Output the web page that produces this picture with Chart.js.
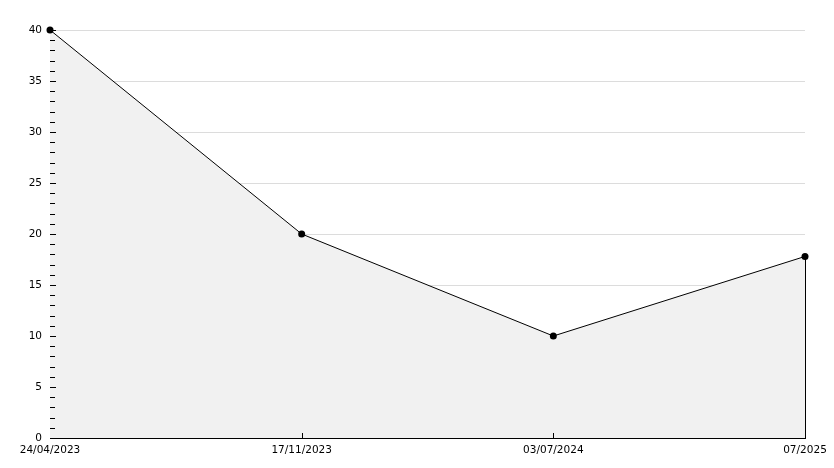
<!DOCTYPE html>
<html>
<head>
<meta charset="utf-8">
<script src="https://cdn.jsdelivr.net/npm/chart.js@4/dist/chart.umd.min.js"></script>
<style>
  html, body { margin: 0; padding: 0; background: #fff; }
  #wrap { width: 834px; height: 468px; }
</style>
</head>
<body>
<div id="wrap"><canvas id="chart" width="834" height="468"></canvas></div>
<script>
const dateLabels = ['24/04/2023', '17/11/2023', '03/07/2024', '07/2025'];
const values = [40, 20, 10, 17.8];
const yMin = 0;
const yMax = 40;
const yMajorStep = 5;

// ticks drawn inside the plot, plus the closing edge of the fill
const innerTicks = {
    id: 'innerTicks',
    afterDatasetsDraw(chart) {
        const ctx = chart.ctx;
        const x = chart.scales.x;
        const y = chart.scales.y;
        const area = chart.chartArea;
        ctx.save();
        ctx.strokeStyle = '#000';
        ctx.lineWidth = 1;
        ctx.beginPath();
        for (let v = yMin; v <= yMax; v++) {
            const py = Math.round(y.getPixelForValue(v)) + 0.5;
            const len = v % yMajorStep === 0 ? 6 : 5;
            ctx.moveTo(area.left, py);
            ctx.lineTo(area.left + len, py);
        }
        for (let i = 1; i < dateLabels.length - 1; i++) {
            const px = Math.round(x.getPixelForValue(i)) + 0.5;
            ctx.moveTo(px, area.bottom);
            ctx.lineTo(px, area.bottom - 5);
        }
        const last = values.length - 1;
        const lx = Math.round(x.getPixelForValue(last)) + 0.5;
        ctx.moveTo(lx, y.getPixelForValue(values[last]));
        ctx.lineTo(lx, area.bottom);
        ctx.stroke();
        ctx.restore();
    }
};

new Chart(document.getElementById('chart'), {
    type: 'line',
    data: {
        labels: dateLabels,
        datasets: [{
            data: values,
            borderColor: '#000',
            borderWidth: 1,
            backgroundColor: '#f1f1f1',
            fill: 'origin',
            tension: 0,
            clip: false,
            pointRadius: 3.5,
            pointBackgroundColor: '#000',
            pointBorderColor: '#000',
            pointBorderWidth: 0,
        }]
    },
    options: {
        responsive: false,
        animation: false,
        layout: { padding: { top: 30, right: 29, left: 0, bottom: 0 } },
        plugins: {
            legend: { display: false },
            tooltip: { enabled: false },
        },
        scales: {
            x: {
                type: 'category',
                offset: false,
                grid: { display: false, drawTicks: false },
                border: { display: true, color: '#000', width: 1 },
                ticks: {
                    color: '#000',
                    font: { family: 'DejaVu Sans', size: 10.5 },
                    maxRotation: 0,
                    autoSkip: false,
                    padding: 6,
                },
                afterFit(scale) { scale.height = 30; },
            },
            y: {
                min: yMin,
                max: yMax,
                grid: {
                    drawTicks: false,
                    color: ctx => (ctx.tick && ctx.tick.value > 0 ? '#dcdcdc' : 'rgba(0,0,0,0)'),
                },
                border: { display: true, color: '#000', width: 1 },
                ticks: {
                    stepSize: yMajorStep,
                    color: '#000',
                    font: { family: 'DejaVu Sans', size: 10.5 },
                    padding: 8,
                },
                afterFit(scale) { scale.width = 50; },
            }
        }
    },
    plugins: [innerTicks]
});
</script>
</body>
</html>
